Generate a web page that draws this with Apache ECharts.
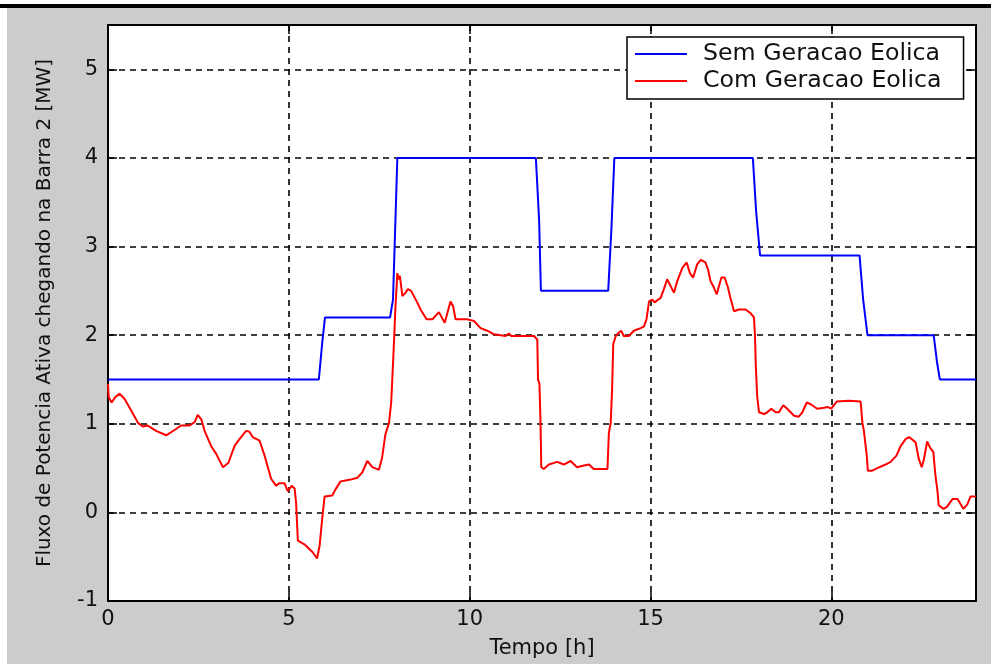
<!DOCTYPE html>
<html lang="pt">
<head>
    <meta charset="UTF-8">
    <title>Fluxo de Potencia Ativa</title>
    <script src="https://cdn.jsdelivr.net/npm/echarts@6/dist/echarts.min.js"></script>
    <style>
        * {
            margin: 0;
            padding: 0;
        }
        body {
            width: 991px;
            height: 664px;
            background-color: #fff;
            position: relative;
            overflow: hidden;
        }
        .topbar {
            position: absolute;
            left: 0;
            top: 4px;
            width: 991px;
            height: 4px;
            background-color: #000;
        }
        #box1 {
            position: absolute;
            left: 7px;
            top: 8px;
            width: 984px;
            height: 656px;
            background-color: #cccccc;
        }
    </style>
</head>
<body>
    <div class="topbar"></div>
    <div id="box1"></div>
    <script>
        // sem geracao eolica (blue step curve)
        var blueTime = [0, 5.83, 5.92, 6.0, 7.8, 7.88, 8.0, 11.83, 11.92, 11.97, 13.83, 13.92, 14.0,
            17.83, 17.92, 18.03, 20.78, 20.88, 21.0, 22.83, 22.92, 23.0, 24];
        var blueFlow = [1.5, 1.5, 1.9, 2.2, 2.2, 2.4, 4.0, 4.0, 3.3, 2.5, 2.5, 3.2, 4.0,
            4.0, 3.4, 2.9, 2.9, 2.4, 2.0, 2.0, 1.7, 1.5, 1.5];

        // com geracao eolica (red curve)
        var redTime = [0.00, 0.02, 0.10, 0.20, 0.32, 0.46, 0.64, 0.83, 0.96, 1.10, 1.33, 1.61, 1.84, 2.02, 2.25,
            2.40, 2.48, 2.58, 2.67, 2.85, 2.99, 3.18, 3.33, 3.50, 3.64, 3.82, 3.91, 4.00, 4.19, 4.33,
            4.51, 4.65, 4.74, 4.88, 4.97, 5.08, 5.16, 5.20, 5.25, 5.43, 5.66, 5.78, 5.85, 5.94, 5.99,
            6.20, 6.29, 6.43, 6.57, 6.71, 6.89, 7.03, 7.17, 7.31, 7.49, 7.58, 7.67, 7.77, 7.83, 7.89,
            7.95, 8.00, 8.03, 8.07, 8.14, 8.23, 8.29, 8.38, 8.55, 8.64, 8.81, 8.97, 9.15, 9.31, 9.47,
            9.54, 9.61, 9.93, 10.12, 10.30, 10.49, 10.67, 10.72, 11.00, 11.08, 11.15, 11.78, 11.87, 11.89,
            11.93, 11.96, 11.98, 12.05, 12.19, 12.42, 12.60, 12.79, 12.97, 13.16, 13.30, 13.43, 13.81,
            13.85, 13.90, 13.94, 13.97, 14.04, 14.13, 14.19, 14.26, 14.40, 14.54, 14.73, 14.82, 14.89,
            14.96, 15.05, 15.11, 15.28, 15.37, 15.46, 15.51, 15.56, 15.65, 15.74, 15.88, 16.00, 16.09,
            16.18, 16.29, 16.39, 16.52, 16.59, 16.66, 16.75, 16.83, 16.89, 16.96, 17.05, 17.14, 17.21,
            17.31, 17.44, 17.63, 17.76, 17.86, 17.89, 17.91, 17.95, 18.00, 18.14, 18.23, 18.34, 18.46,
            18.55, 18.67, 18.78, 18.97, 19.10, 19.20, 19.32, 19.43, 19.61, 19.80, 19.89, 20.00, 20.15,
            20.49, 20.81, 20.86, 20.90, 20.98, 21.01, 21.13, 21.27, 21.50, 21.64, 21.80, 21.92, 22.06,
            22.15, 22.33, 22.42, 22.50, 22.56, 22.65, 22.73, 22.82, 22.88, 22.93, 22.97, 23.10, 23.19,
            23.35, 23.49, 23.58, 23.65, 23.76, 23.85, 24.00];
        var redFlow = [1.45, 1.30, 1.24, 1.30, 1.34, 1.28, 1.15, 1.01, 0.97, 0.98, 0.92, 0.87, 0.93, 0.98, 0.98,
            1.02, 1.10, 1.05, 0.92, 0.75, 0.66, 0.51, 0.56, 0.75, 0.83, 0.92, 0.91, 0.85, 0.81, 0.64,
            0.38, 0.30, 0.33, 0.33, 0.24, 0.30, 0.27, 0.11, -0.32, -0.36, -0.45, -0.52, -0.38, 0.00, 0.18,
            0.19, 0.26, 0.35, 0.36, 0.37, 0.39, 0.45, 0.58, 0.51, 0.48, 0.62, 0.88, 1.01, 1.24, 1.76,
            2.33, 2.70, 2.63, 2.67, 2.44, 2.48, 2.52, 2.50, 2.37, 2.29, 2.18, 2.18, 2.26, 2.14, 2.38,
            2.33, 2.18, 2.18, 2.16, 2.08, 2.05, 2.01, 1.99, 1.99, 2.02, 1.99, 1.99, 1.95, 1.50,
            1.45, 1.00, 0.51, 0.49, 0.54, 0.57, 0.54, 0.58, 0.51, 0.53, 0.54, 0.49, 0.49,
            0.90, 1.01, 1.41, 1.90, 1.99, 2.03, 2.05, 1.99, 1.99, 2.05, 2.08, 2.10, 2.18,
            2.38, 2.40, 2.37, 2.42, 2.52, 2.63, 2.65, 2.55, 2.48, 2.61, 2.76, 2.82, 2.70,
            2.65, 2.80, 2.85, 2.82, 2.74, 2.61, 2.54, 2.46, 2.55, 2.65, 2.65, 2.54, 2.42,
            2.27, 2.29, 2.29, 2.25, 2.20, 1.99, 1.67, 1.31, 1.13, 1.11, 1.13, 1.17, 1.13,
            1.13, 1.21, 1.17, 1.09, 1.08, 1.13, 1.24, 1.22, 1.17, 1.18, 1.19, 1.17, 1.25,
            1.26, 1.25, 1.01, 0.92, 0.64, 0.47, 0.47, 0.50, 0.54, 0.57, 0.64, 0.75, 0.83,
            0.85, 0.79, 0.60, 0.51, 0.60, 0.80, 0.73, 0.68, 0.41, 0.26, 0.08, 0.04, 0.06,
            0.15, 0.15, 0.09, 0.04, 0.09, 0.18, 0.18];

        var seriesNames = ['Sem Geracao Eolica', 'Com Geracao Eolica'];
        var xTicks = [0, 24, 5];   // min, max, interval
        var yTicks = [-1, 5.5, 1];

        function zip(a, b) {
            var out = [];
            for (let i = 0; i < a.length; i++) {
                out.push([a[i], b[i]]);
            }
            return out;
        }

        var font = 'DejaVu Sans';
        var gridLine = { show: true, lineStyle: { color: '#000', width: 1.6, type: [6, 5] } };
        var edge = { show: true, onZero: false, lineStyle: { color: '#000', width: 2 } };
        var tick = { show: true, inside: true, length: 9, lineStyle: { color: '#000', width: 1.5 } };

        var option = {
            animation: false,
            grid: {
                left: 101,
                top: 17,
                right: 15,
                bottom: 60,
                show: true,
                backgroundColor: '#fff',
                borderWidth: 0
            },
            legend: {
                left: 620,
                top: 29,
                orient: 'vertical',
                backgroundColor: '#fff',
                borderColor: '#000',
                borderWidth: 1.5,
                borderRadius: 0,
                padding: [5, 22, 6, 8],
                itemGap: 3,
                itemWidth: 52,
                itemHeight: 2,
                icon: 'rect',
                textStyle: {
                    fontFamily: font,
                    fontSize: 23.7,
                    lineHeight: 24,
                    color: '#111',
                    padding: [0, 0, 0, 11]
                },
                data: seriesNames
            },
            xAxis: [{
                type: 'value',
                min: xTicks[0],
                max: xTicks[1],
                interval: xTicks[2],
                name: 'Tempo [h]',
                nameLocation: 'middle',
                nameGap: 37,
                nameTextStyle: { fontFamily: font, fontSize: 21, color: '#111' },
                axisLine: edge,
                axisTick: tick,
                splitLine: gridLine,
                axisLabel: {
                    fontFamily: font, fontSize: 21, color: '#111', margin: 8,
                    showMaxLabel: false
                }
            }, {
                type: 'value',
                position: 'top',
                min: xTicks[0],
                max: xTicks[1],
                interval: xTicks[2],
                axisLine: edge,
                axisTick: tick,
                splitLine: { show: false },
                axisLabel: { show: false }
            }],
            yAxis: [{
                type: 'value',
                min: yTicks[0],
                max: yTicks[1],
                interval: yTicks[2],
                name: 'Fluxo de Potencia Ativa chegando na Barra 2 [MW]',
                nameLocation: 'middle',
                nameGap: 53,
                nameTextStyle: { fontFamily: font, fontSize: 20, color: '#111' },
                axisLine: edge,
                axisTick: tick,
                splitLine: gridLine,
                axisLabel: {
                    fontFamily: font, fontSize: 21, color: '#111', margin: 10,
                    showMaxLabel: false
                }
            }, {
                type: 'value',
                position: 'right',
                min: yTicks[0],
                max: yTicks[1],
                interval: yTicks[2],
                axisLine: edge,
                axisTick: tick,
                splitLine: { show: false },
                axisLabel: { show: false }
            }],
            series: [{
                name: seriesNames[0],
                type: 'line',
                symbol: 'none',
                data: zip(blueTime, blueFlow),
                itemStyle: { color: '#0000ff' },
                lineStyle: { color: '#0000ff', width: 2 },
                z: 3
            }, {
                name: seriesNames[1],
                type: 'line',
                symbol: 'none',
                data: zip(redTime, redFlow),
                itemStyle: { color: '#ff0000' },
                lineStyle: { color: '#ff0000', width: 2 },
                z: 3
            }]
        };
        echarts.init(document.querySelector('#box1')).setOption(option);
    </script>
</body>
</html>
